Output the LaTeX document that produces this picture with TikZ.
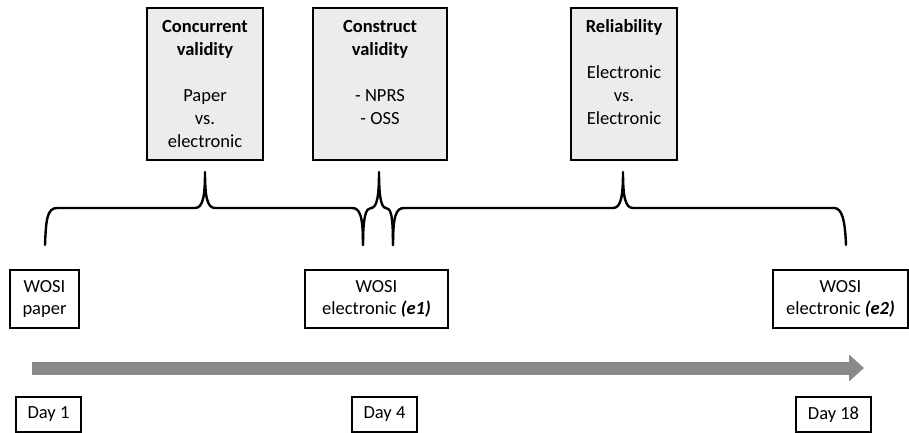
\documentclass[tikz,border=0pt]{standalone}
\usepackage{fontspec}
\setmainfont{Carlito}
\usetikzlibrary{arrows.meta}

\definecolor{boxgray}{HTML}{ECECEC}
\definecolor{bargray}{HTML}{8A8A8A}

\begin{document}
\begin{tikzpicture}[
  x=1pt, y=-1pt,
  font=\fontsize{18.5}{23}\selectfont,
  topic/.style={draw, line width=2pt, fill=boxgray, align=center,
    minimum height=152pt, inner sep=4pt},
  wosi/.style={draw, line width=2pt, fill=white, align=center,
    minimum height=58pt, inner sep=3pt, font=\fontsize{18.5}{22}\selectfont},
  day/.style={draw, line width=2pt, fill=white, minimum height=35pt, inner sep=3pt},
  brace/.style={line width=2.4pt, line cap=round, line join=round},
  timeline/.style={line width=13pt, draw=bargray, -{Triangle[length=15pt, width=26pt]}}
]
\useasboundingbox (0,0) rectangle (909,433);

% what is measured (top row)
\node[topic, minimum width=116pt] (conc) at (205,84)
  {\textbf{Concurrent}\\\textbf{validity}\\~\\Paper\\vs.\\electronic};
\node[topic, minimum width=134pt] (cons) at (380,84)
  {\textbf{Construct}\\\textbf{validity}\\~\\- NPRS\\- OSS\\~};
\node[topic, minimum width=106pt] (reli) at (624,84)
  {\textbf{Reliability}\\~\\Electronic\\vs.\\Electronic\\~};

% questionnaires
\node[wosi, minimum width=69pt]  (paper) at (44.5,299)  {WOSI\\paper};
\node[wosi, minimum width=143pt] (eone)  at (376.5,299) {WOSI\\electronic \textbf{\textit{(e1)}}};
\node[wosi, minimum width=135pt] (etwo)  at (840.5,299) {WOSI\\electronic \textbf{\textit{(e2)}}};

% braces linking the two rows
\draw[brace] (45,245) .. controls (46,220) and (47,208) .. (57,208) -- (195,208)
  .. controls (203,208) and (205,196) .. (205,172)
  .. controls (205,196) and (207,208) .. (215,208) -- (352,208)
  .. controls (360,208) and (363,216) .. (363,245);
\draw[brace] (363,245) .. controls (363,216) and (366,208) .. (371,208)
  .. controls (377,208) and (379,196) .. (379,172)
  .. controls (379,196) and (381,208) .. (386,208)
  .. controls (391,208) and (393,216) .. (393,245);
\draw[brace] (393,245) .. controls (393,216) and (396,208) .. (404,208) -- (613,208)
  .. controls (621,208) and (623,196) .. (623,172)
  .. controls (623,196) and (625,208) .. (633,208) -- (834,208)
  .. controls (842,208) and (845,220) .. (846,245);

% time axis
\coordinate (tstart) at (32,368);
\coordinate (tend) at (864,368);
\draw[timeline] (tstart) -- (tend);

\node[day, minimum width=65pt] (d1)  at (48.5,414.5)  {Day 1};
\node[day, minimum width=65pt] (d4)  at (384.5,414.5) {Day 4};
\node[day, minimum width=75pt] (d18) at (833.5,414.5) {Day 18};

\end{tikzpicture}
\end{document}
